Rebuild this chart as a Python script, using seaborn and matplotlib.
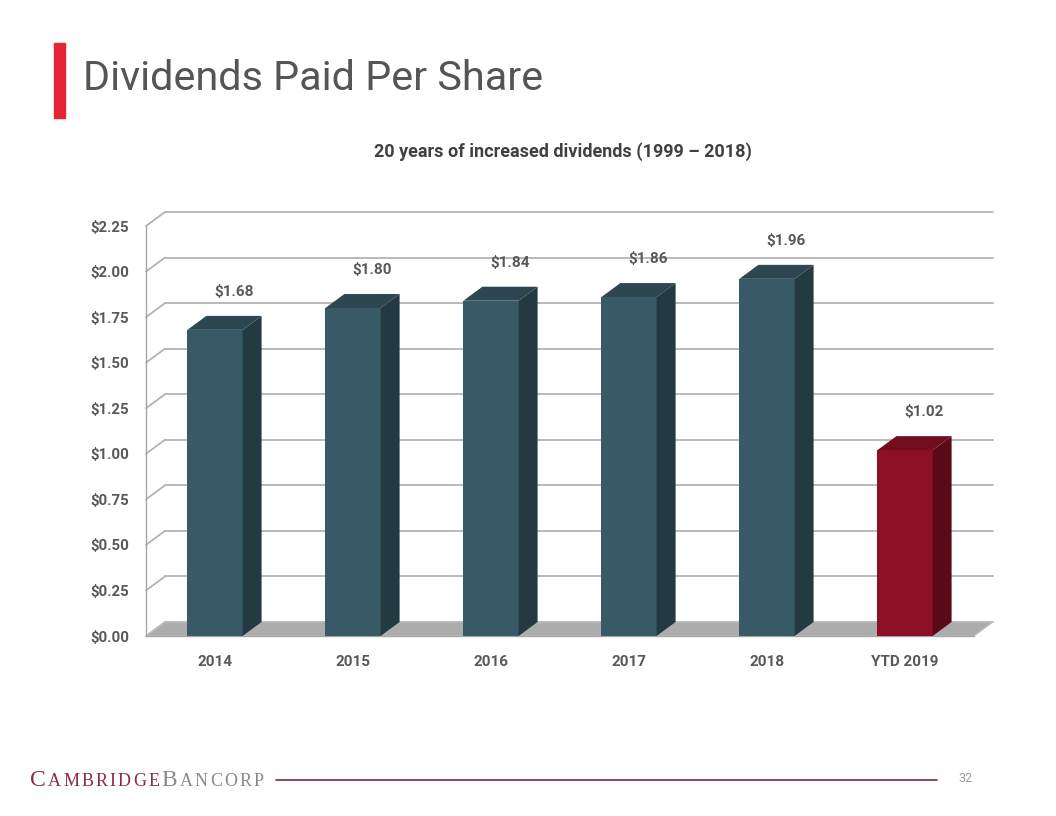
import matplotlib
matplotlib.use("Agg")
import matplotlib.pyplot as plt
import seaborn as sns
import pandas as pd
from matplotlib.patches import Polygon, Rectangle
from matplotlib.lines import Line2D

# chart data
years = ["2014", "2015", "2016", "2017", "2018", "YTD 2019"]
dividends = [1.68, 1.80, 1.84, 1.86, 1.96, 1.02]
value_labels = ["$1.68", "$1.80", "$1.84", "$1.86", "$1.96", "$1.02"]
y_ticks = [0.0, 0.25, 0.50, 0.75, 1.00, 1.25, 1.50, 1.75, 2.00, 2.25]
y_tick_labels = ["$0.00", "$0.25", "$0.50", "$0.75", "$1.00", "$1.25",
                 "$1.50", "$1.75", "$2.00", "$2.25"]

# face colours (front, side, top)
blue = ("#385a67", "#243a41", "#2c4751")
red = ("#8e1026", "#5b0a18", "#710d1f")
bar_styles = [blue, blue, blue, blue, blue, red]

grey_text = "#595959"
grid_col = "#b3b3b3"

sns.set_style("white")
plt.rcParams["font.family"] = ["Roboto", "DejaVu Sans"]

W, H = 1056, 816
fig = plt.figure(figsize=(W / 100, H / 100), dpi=100)

# plot area (front plane of the 3D box)
ax_l, ax_b, ax_w, ax_h = 146, 180, 828, 410
ax = fig.add_axes([ax_l / W, ax_b / H, ax_w / W, ax_h / H])

df = pd.DataFrame({"year": years, "value": dividends})
sns.barplot(data=df, x="year", y="value", hue="year",
            palette=[s[0] for s in bar_styles], width=0.4, legend=False,
            saturation=1, linewidth=0, ax=ax, zorder=4)

ax.set_xlim(-0.5, 5.5)
ax.set_ylim(0, 2.25)

# depth offset of the pseudo-3D look, in data units
dx = 19 / ax_w * 6
dy = 14 / ax_h * 2.25

# back wall gridlines and the diagonals joining them to the front axis
for t in y_ticks:
    ax.add_line(Line2D([-0.5 + dx, 5.5 + dx], [t + dy, t + dy], color=grid_col,
                       lw=1.3, clip_on=False, zorder=1))
    ax.add_line(Line2D([-0.5, -0.5 + dx], [t, t + dy], color=grid_col,
                       lw=1.3, clip_on=False, zorder=1))

# floor
ax.add_patch(Polygon([(-0.5, 0), (5.5, 0), (5.5 + dx, dy), (-0.5 + dx, dy)],
                     closed=True, facecolor="#acacac", edgecolor="#c0c0c0",
                     lw=0.8, clip_on=False, zorder=2))

# sides, tops and value labels of the bars
for p, style, lab in zip(ax.patches[:len(years)], bar_styles, value_labels):
    x0, w, h = p.get_x(), p.get_width(), p.get_height()
    ax.add_patch(Polygon([(x0 + w, 0), (x0 + w + dx, dy), (x0 + w + dx, h + dy), (x0 + w, h)],
                         closed=True, facecolor=style[1], lw=0, clip_on=False, zorder=4))
    ax.add_patch(Polygon([(x0, h), (x0 + dx, h + dy), (x0 + w + dx, h + dy), (x0 + w, h)],
                         closed=True, facecolor=style[2], lw=0, clip_on=False, zorder=4))
    ax.annotate(lab, xy=(x0 + w / 2, h), xytext=(19, 38), textcoords="offset pixels",
                ha="center", va="center", fontsize=11, fontweight="bold",
                color=grey_text, annotation_clip=False)

# axes styling
sns.despine(ax=ax, top=True, right=True)
for s in ["left", "bottom"]:
    ax.spines[s].set_color("#a6a6a6")
    ax.spines[s].set_linewidth(1.0)
ax.spines["bottom"].set_zorder(3)

ax.set_yticks(y_ticks)
ax.set_yticklabels(y_tick_labels)
ax.tick_params(axis="y", length=4, width=1, color="#a6a6a6", pad=8,
               labelsize=10.8, labelcolor=grey_text)
for t in ax.get_yticklabels():
    t.set_fontweight("bold")

ax.set_xticks(range(len(years)))
ax.set_xticklabels(years)
ax.set_xticks([i - 0.5 for i in range(len(years) + 1)], minor=True)
ax.tick_params(axis="x", which="major", length=0, pad=14,
               labelsize=11, labelcolor=grey_text)
ax.tick_params(axis="x", which="minor", length=5, width=1, color="#a6a6a6")
for t in ax.get_xticklabels():
    t.set_fontweight("bold")
ax.set_xlabel("")
ax.set_ylabel("")

# slide title and subtitle
fig.patches.append(Rectangle((54 / W, 1 - 118 / H), 11 / W, 75 / H,
                             transform=fig.transFigure, color="#e52536"))
fig.text(83 / W, 1 - 78 / H, "Dividends Paid Per Share", fontsize=29.8,
         color="#555555", ha="left", va="center")
fig.text(563 / W, 1 - 152 / H, "20 years of increased dividends (1999 \u2013 2018)",
         fontsize=13, fontweight="bold", color="#404040", ha="center", va="center")

# footer
fig.add_artist(Line2D([276 / W, 937 / W], [1 - 780 / H, 1 - 780 / H],
                      transform=fig.transFigure, color="#7a2a3a", lw=1.2))
fig.text(965 / W, 1 - 779 / H, "32", fontsize=9, color="#9a9a9a",
         ha="center", va="center")

# small-caps logo text, placed letter by letter with a little tracking
renderer = fig.canvas.get_renderer()
x_cur = 30
base_y = 1 - 786 / H
for word, col in [("CAMBRIDGE", "#8b2f44"), ("BANCORP", "#8a8a8a")]:
    for i, ch in enumerate(word):
        size = 17 if i == 0 else 13
        t = fig.text(x_cur / W, base_y, ch, fontsize=size, color=col,
                     family="Liberation Serif", ha="left", va="baseline")
        x_cur += t.get_window_extent(renderer).width + 2.2

fig.savefig("out.png", dpi=100)
